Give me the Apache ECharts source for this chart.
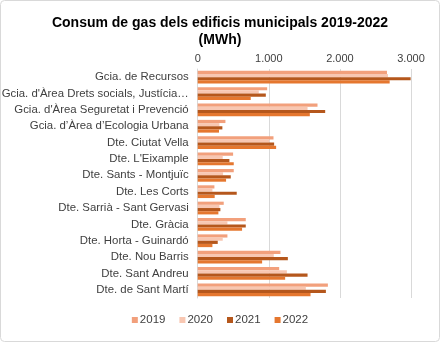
<!DOCTYPE html>
<html><head><meta charset="utf-8">
<script src="https://cdn.jsdelivr.net/npm/echarts@6/dist/echarts.min.js"></script>
<style>html,body{margin:0;padding:0;background:#fff}#c{width:440px;height:342px}</style>
</head><body><div id="c"></div>
<script>
const categories = [
  "Gcia. de Recursos",
  "Gcia. d'Àrea Drets socials, Justícia global, Feminismes i LGTBI",
  "Gcia. d'Àrea Seguretat i Prevenció",
  "Gcia. d’Àrea d’Ecologia Urbana",
  "Dte. Ciutat Vella",
  "Dte. L'Eixample",
  "Dte. Sants - Montjuïc",
  "Dte. Les Corts",
  "Dte. Sarrià - Sant Gervasi",
  "Dte. Gràcia",
  "Dte. Horta - Guinardó",
  "Dte. Nou Barris",
  "Dte. Sant Andreu",
  "Dte. de Sant Martí"
];
const seriesNames = ["2019", "2020", "2021", "2022"];
const v2019 = [2662, 977, 1685, 390, 1066, 498, 507, 235, 366, 676, 418, 1164, 1146, 1831];
const v2020 = [2676, 859, 1545, 305, 1009, 352, 357, 207, 305, 418, 352, 1070, 1254, 1521];
const v2021 = [2995, 958, 1793, 347, 1075, 446, 465, 549, 319, 676, 282, 1268, 1545, 1803];
const v2022 = [2700, 746, 1577, 300, 1103, 507, 399, 239, 291, 624, 207, 906, 1230, 1587];
const xTicks = [0, 1000, 2000, 3000];

const colors = ["#F2A07C", "#F8C7B2", "#B5571C", "#E5772F"];
const values = [v2019, v2020, v2021, v2022];

const chart = echarts.init(document.getElementById('c'), null, {renderer: 'canvas'});
const fmt = v => v === 0 ? '0' : String(v).replace(/\B(?=(\d{3})+(?!\d))/g, '.');
chart.setOption({
  animation: false,
  textStyle: {fontFamily: 'Liberation Sans, Arial, sans-serif'},
  graphic: [{type: 'rect', shape: {x: 0.5, y: 0.5, width: 439, height: 341, r: 4},
    style: {fill: 'none', stroke: '#D9D9D9', lineWidth: 1}, z: -1}],
  title: {
    text: 'Consum de gas dels edificis municipals 2019-2022\n(MWh)',
    left: 'center', top: 10,
    textStyle: {fontSize: 14, fontWeight: 'bold', color: '#000', lineHeight: 17,
      fontFamily: 'Liberation Sans, Arial, sans-serif'}
  },
  legend: {
    data: seriesNames, bottom: 11, left: 'center',
    itemWidth: 6, itemHeight: 6, itemGap: 14, icon: 'rect',
    textStyle: {fontSize: 11.5, color: '#404040', padding: [0, 0, 0, -3]}
  },
  grid: {left: 197.7, right: 29, top: 69, bottom: 44, containLabel: false, outerBoundsMode: 'none'},
  xAxis: {
    type: 'value', position: 'top', min: 0, max: 3000, interval: 1000,
    axisLabel: {formatter: v => xTicks.includes(v) ? fmt(v) : '', fontSize: 11, color: '#404040', margin: 5},
    axisLine: {show: false}, axisTick: {show: false},
    splitLine: {lineStyle: {color: '#D9D9D9', width: 1}}
  },
  yAxis: {
    type: 'category', data: categories, inverse: true,
    axisLabel: {fontSize: 11.4, color: '#404040', margin: 9, width: 194, overflow: 'truncate', ellipsis: '…'},
    axisLine: {lineStyle: {color: '#D9D9D9'}}, axisTick: {show: false}
  },
  series: seriesNames.map((n, i) => ({
    name: n, type: 'bar', data: values[i], barGap: '0%', barCategoryGap: '22%',
    itemStyle: {color: colors[i]}
  }))
});
</script></body></html>
